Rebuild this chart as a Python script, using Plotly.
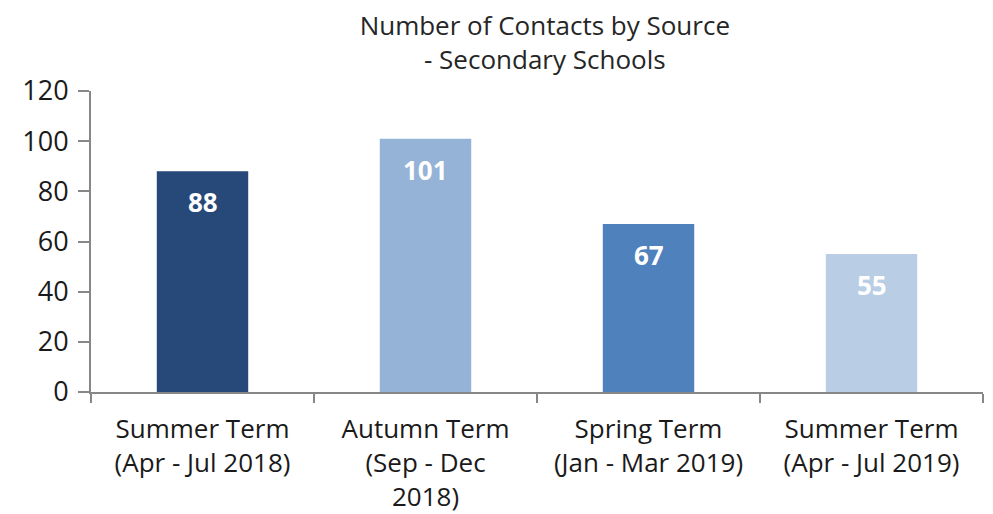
import plotly.graph_objects as go

categories = ["Summer Term<br>(Apr - Jul 2018)", "Autumn Term<br>(Sep - Dec<br>2018)",
              "Spring Term<br>(Jan - Mar 2019)", "Summer Term<br>(Apr - Jul 2019)"]
values = [88, 101, 67, 55]
colors = ["#26497a", "#95b3d7", "#4f81bd", "#b9cde5"]
y_ticks = [0, 20, 40, 60, 80, 100, 120]

FONT = "Open Sans"
AX = "#878787"

fig = go.Figure()
fig.add_trace(go.Bar(
    x=categories, y=values, marker=dict(color=colors, line=dict(width=0)),
    width=0.41, hoverinfo="skip",
))

for c, v in zip(categories, values):
    fig.add_annotation(x=c, y=v, text=f"<b>{v}</b>", showarrow=False, yshift=-31,
                       font=dict(family=FONT, size=26, color="white"))

fig.update_layout(
    width=985, height=506,
    margin=dict(l=83, r=10, t=83, b=122),
    paper_bgcolor="white", plot_bgcolor="white",
    showlegend=False,
    title=dict(text="Number of Contacts by Source<br>- Secondary Schools",
               x=0.545, xanchor="center", y=0.947, yanchor="top",
               font=dict(family=FONT, size=26, color="#262626")),
    font=dict(family=FONT, color="#000000"),
)
fig.update_xaxes(
    showline=True, linecolor=AX, linewidth=2, automargin=False,
    ticks="outside", tickson="boundaries", ticklen=9, tickcolor=AX, tickwidth=2,
    tickfont=dict(family=FONT, size=26, color="#1a1a1a"),
    ticklabelstandoff=13, showgrid=False,
)
fig.update_yaxes(
    range=[0, 120], tickvals=y_ticks, showline=True, linecolor=AX, linewidth=2,
    ticks="outside", ticklen=11, tickcolor=AX, tickwidth=2, automargin=False,
    tickfont=dict(family=FONT, size=27, color="#1a1a1a"),
    ticklabelstandoff=4,
    showgrid=False, zeroline=False,
)

fig.write_html("out.html")
